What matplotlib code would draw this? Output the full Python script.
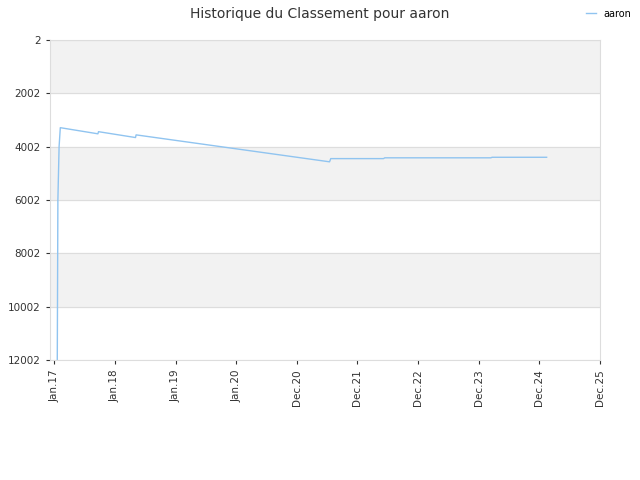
import matplotlib
matplotlib.use("Agg")
import matplotlib.pyplot as plt

# x en "années" depuis Jan.17 (index des ticks)
tick_labels = ["Jan.17", "Jan.18", "Jan.19", "Jan.20", "Dec.20",
               "Dec.21", "Dec.22", "Dec.23", "Dec.24", "Dec.25"]
x_vals = [0.05, 0.06, 0.08, 0.10, 0.72, 0.73, 1.34, 1.35, 4.54, 4.56, 5.43, 5.45, 7.20, 7.22, 8.12]
ranks = [12002, 6000, 4000, 3290, 3520, 3440, 3660, 3560, 4570, 4450, 4450, 4420, 4420, 4400, 4400]
y_ticks = [2, 2002, 4002, 6002, 8002, 10002, 12002]

fig = plt.figure(figsize=(6.4, 4.8), dpi=100)
ax = fig.add_axes([50 / 640, 120 / 480, 550 / 640, 320 / 480])

# bandes alternées
for i in range(0, len(y_ticks) - 1, 2):
    ax.axhspan(y_ticks[i], y_ticks[i + 1], color="#f2f2f2", zorder=0)

ax.plot(x_vals, ranks, color="#90c4f0", linewidth=1, label="aaron", zorder=2)

ax.set_ylim(12002, 2)
ax.set_yticks(y_ticks)
ax.set_xlim(-0.07, 9)
ax.set_xticks(range(len(tick_labels)))
ax.set_xticklabels(tick_labels, rotation=90)
ax.tick_params(labelsize=7.5, colors="#333333", length=3)
ax.yaxis.grid(True, color="#dddddd", linewidth=0.8)
for s in ax.spines.values():
    s.set_color("#dddddd")

fig.suptitle("Historique du Classement pour aaron", fontsize=10, color="#333333", y=0.985)
fig.legend(loc="upper right", bbox_to_anchor=(1.0, 1.0), frameon=False, fontsize=7,
           handlelength=1)

fig.savefig("out.png")
